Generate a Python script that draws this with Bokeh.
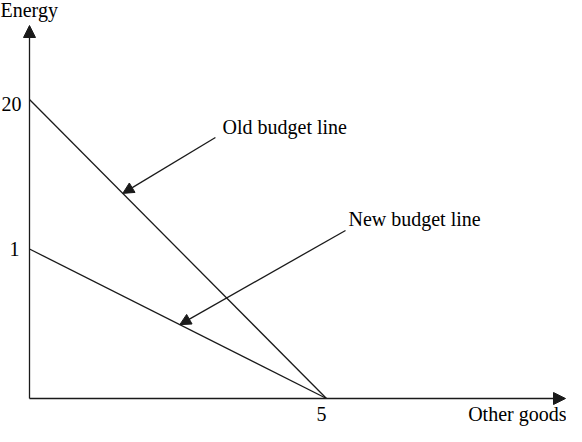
from bokeh.plotting import figure
from bokeh.models import Range1d, Arrow, NormalHead
from bokeh.core.properties import value
from bokeh.embed import file_html
from bokeh.resources import INLINE

# ---- data (schematic budget-line diagram) ----
x_intercept = 5                       # other goods where both lines meet the axis
x_tick_label = "5"
energy_intercepts = [2, 1]            # schematic heights of old / new budget line
energy_tick_labels = ["20", "1"]
line_names = ["Old budget line", "New budget line"]
arrow_tip_x = [1.57, 2.53]            # where each pointer touches its line
arrow_start = [(3.13, 1.746), (5.32, 1.124)]
label_pos = [(3.25, 1.813), (5.37, 1.204)]
x_axis_title = "Other goods"
y_axis_title = "Energy"

# ---- layout ----
W, H = 566, 426
OX, OY = 29, 398          # origin in figure pixels
XU, YU = 59.4, 149.5      # pixels per data unit
FONT = value("Liberation Serif")
FS = "20px"
INK = "#1a1a1a"

p = figure(width=W, height=H, output_backend="svg", toolbar_location=None,
           x_range=Range1d(-OX / XU, (W - OX) / XU),
           y_range=Range1d(-(H - OY) / YU, OY / YU),
           x_axis_location=None, y_axis_location=None, min_border=0)
p.grid.visible = False
p.outline_line_color = None
p.background_fill_color = "white"

# axes with arrowheads
x_axis_end = (W - 1 - OX) / XU
y_axis_end = (OY - 25) / YU
p.add_layout(Arrow(end=NormalHead(size=12, fill_color=INK, line_color=INK),
                   x_start=0, y_start=0, x_end=x_axis_end, y_end=0,
                   line_color=INK, line_width=1.3))
p.add_layout(Arrow(end=NormalHead(size=12, fill_color=INK, line_color=INK),
                   x_start=0, y_start=0, x_end=0, y_end=y_axis_end,
                   line_color=INK, line_width=1.3))

# budget lines
for yi in energy_intercepts:
    p.line([0, x_intercept], [yi, 0], line_color=INK, line_width=1.3)

# pointer arrows
for yi, tx, (sx, sy) in zip(energy_intercepts, arrow_tip_x, arrow_start):
    ty = yi * (1 - tx / x_intercept)
    p.add_layout(Arrow(end=NormalHead(size=11, fill_color=INK, line_color=INK),
                       x_start=sx, y_start=sy, x_end=tx, y_end=ty,
                       line_color=INK, line_width=1.3))

# line labels
p.text(x=[lp[0] for lp in label_pos], y=[lp[1] for lp in label_pos], text=line_names,
       text_font=FONT, text_font_size=FS, text_color="black",
       text_align="left", text_baseline="alphabetic")

# tick labels
p.text(x=[0, 0], y=energy_intercepts, text=energy_tick_labels,
       x_offset=[-8, -10], y_offset=[4, 0],
       text_font=FONT, text_font_size=FS, text_color="black",
       text_align="right", text_baseline="alphabetic")
p.text(x=[x_intercept], y=[0], text=[x_tick_label], x_offset=-5, y_offset=15,
       text_font=FONT, text_font_size=FS, text_color="black",
       text_align="center", text_baseline="alphabetic")

# axis titles
p.text(x=[-OX / XU], y=[(OY - 9) / YU], text=[y_axis_title],
       text_font=FONT, text_font_size=FS, text_color="black",
       text_align="left", text_baseline="alphabetic")
p.text(x=[(W - OX) / XU], y=[-(413 - OY) / YU], text=[x_axis_title],
       text_font=FONT, text_font_size=FS, text_color="black",
       text_align="right", text_baseline="alphabetic")

open("out.html", "w").write(file_html(p, INLINE))
